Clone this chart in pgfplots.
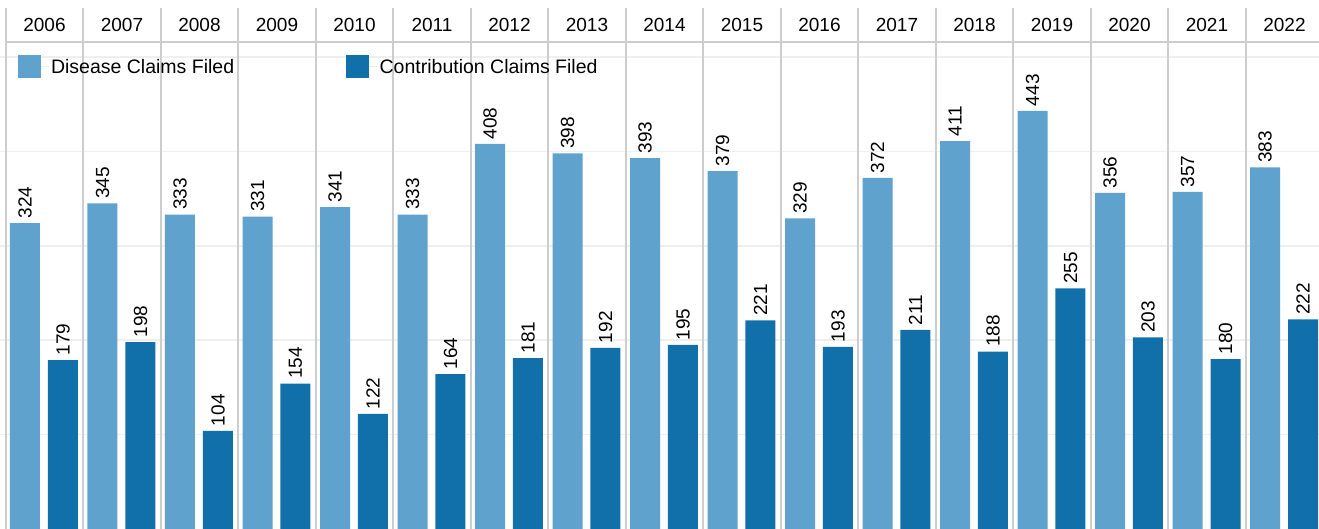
\documentclass[border=0pt]{standalone}
\usepackage{pgfplots}
\pgfplotsset{compat=1.18}
\usepackage{pgfplotstable}
\usepackage{fontspec}
\setmainfont{Liberation Sans}
\definecolor{lightb}{HTML}{5FA2CE}
\definecolor{darkb}{HTML}{1170AA}
\definecolor{divg}{HTML}{CDCDCD}
\definecolor{gridg}{HTML}{EFEFEF}
\newcommand{\chf}{\fontsize{19}{22}\selectfont}
\newcommand{\lgf}{\fontsize{19.5}{22}\selectfont}
\pgfplotstableread{
idx year dis con
0 2006 324 179
1 2007 345 198
2 2008 333 104
3 2009 331 154
4 2010 341 122
5 2011 333 164
6 2012 408 181
7 2013 398 192
8 2014 393 195
9 2015 379 221
10 2016 329 193
11 2017 372 211
12 2018 411 188
13 2019 443 255
14 2020 356 203
15 2021 357 180
16 2022 383 222
}\datatable
\begin{document}
\begin{tikzpicture}
\begin{axis}[
  at={(0,0)}, anchor=south west,
  scale only axis, width=1319pt, height=529pt,
  xmin=-0.0735, xmax=16.946, ymin=0, ymax=560.4,
  axis line style={draw=none},
  major tick length=0pt,
  xtick=\empty, xticklabels={},
  ytick={100,200,300,400,500}, yticklabels={},
  ymajorgrids, major y grid style={draw=gridg, line width=1.6pt},
  clip=false,
  /pgf/number format/assume math mode=true,
  ybar, bar width=30pt, bar shift=0pt,
  nodes near coords,
  nodes near coords style={rotate=90, anchor=west, font=\chf, text=black, inner xsep=4.5pt, inner ysep=0pt},
  legend columns=2,
  legend style={at={(axis cs:0.15,489.6)}, anchor=west, draw=none, fill=none, font=\lgf, inner sep=0pt,
    /tikz/every even column/.append style={column sep=110pt}},
  legend cell align=left,
]
\addplot[fill=lightb, draw=none, legend image code/.code={\fill[lightb] (0pt,-11.5pt) rectangle (23pt,11.5pt); \path (0pt,0pt) -- (31.5pt,0pt);}]
  table[x expr=\thisrow{idx}+0.249, y=dis] {\datatable};
\addlegendentry{Disease Claims Filed}
\addplot[fill=darkb, draw=none, legend image code/.code={\fill[darkb] (0pt,-11.5pt) rectangle (23pt,11.5pt); \path (0pt,0pt) -- (31.5pt,0pt);}]
  table[x expr=\thisrow{idx}+0.739, y=con] {\datatable};
\addlegendentry{Contribution Claims Filed}
\pgfplotsinvokeforeach{0,...,16}{
  \draw[divg, line width=1.8pt] (axis cs:#1,0) -- (axis cs:#1,551.9);
}
\draw[divg, line width=1.8pt] (axis cs:0,515.8) -- (axis cs:16.946,515.8);
\pgfplotsforeachungrouped \i/\y in {0/2006,1/2007,2/2008,3/2009,4/2010,5/2011,6/2012,7/2013,8/2014,9/2015,10/2016,11/2017,12/2018,13/2019,14/2020,15/2021,16/2022}{
  \edef\temp{\noexpand\node[font=\noexpand\chf, text=black] at (axis cs:\i+0.5,533.5) {\y};}
  \temp
}
\end{axis}
\pgfresetboundingbox
\path (0,0) rectangle (1319pt,529pt);
\end{tikzpicture}
\end{document}
